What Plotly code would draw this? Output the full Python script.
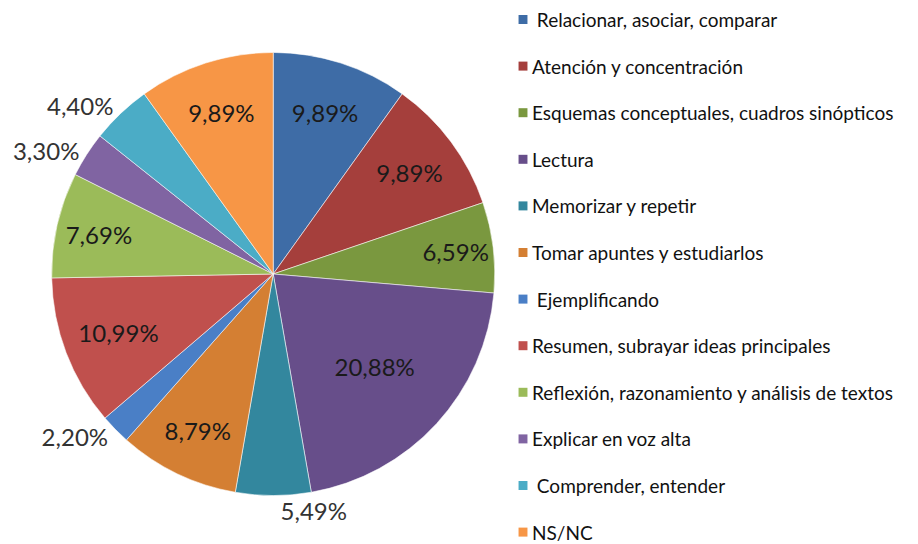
import plotly.graph_objects as go

categories = [
    " Relacionar, asociar, comparar",
    "Atención y concentración",
    "Esquemas conceptuales, cuadros sinópticos",
    "Lectura",
    "Memorizar y repetir",
    "Tomar apuntes y estudiarlos",
    " Ejemplificando",
    "Resumen, subrayar ideas principales",
    "Reflexión, razonamiento y análisis de textos",
    "Explicar en voz alta",
    " Comprender, entender",
    "NS/NC",
]
percent_values = [9.89, 9.89, 6.59, 20.88, 5.49, 8.79, 2.20, 10.99, 7.69, 3.30, 4.40, 9.89]
percent_labels = ["9,89%", "9,89%", "6,59%", "20,88%", "5,49%", "8,79%",
                  "2,20%", "10,99%", "7,69%", "3,30%", "4,40%", "9,89%"]
label_positions = ["inside", "inside", "inside", "inside", "outside", "inside",
                   "outside", "inside", "inside", "outside", "outside", "inside"]
slice_colors = ["#3E6CA6", "#A53F3C", "#7A983F", "#674E8A", "#33879E", "#D47F33",
                "#4A7FC6", "#C0504D", "#9BBB59", "#8064A2", "#4BACC6", "#F79646"]

# the page body has an 8px margin; size the figure so it fits the window
OFF = 8
W, H = 918 - OFF, 544 - OFF
FONT = "Lato"


def px_x(p):
    return (p - OFF) / W


def px_y(p):
    return 1 - (p - OFF) / H


fig = go.Figure()
fig.add_trace(go.Pie(
    labels=categories,
    values=percent_values,
    text=percent_labels,
    texttemplate="%{text}",
    textposition=label_positions,
    insidetextorientation="horizontal",
    sort=False,
    direction="clockwise",
    rotation=0,
    marker=dict(colors=slice_colors, line=dict(color="rgba(255,255,255,0.55)", width=1)),
    insidetextfont=dict(family=FONT, size=24, color="#1a1a1a"),
    outsidetextfont=dict(family=FONT, size=24, color="#333333"),
    domain=dict(x=[px_x(44), px_x(491)], y=[px_y(497), px_y(51)]),
    showlegend=False,
    hoverinfo="label+text",
))

# manual legend (Excel-style spacing)
shapes = []
annotations = []
y0, dy = 19.5, 46.6
for i, (name, col) in enumerate(zip(categories, slice_colors)):
    yc = y0 + i * dy
    shapes.append(dict(type="rect", xref="paper", yref="paper",
                       x0=px_x(515), x1=px_x(524),
                       y0=px_y(yc + 4.5), y1=px_y(yc - 4.5),
                       fillcolor=col, line=dict(width=0)))
    label = ("&nbsp;" + name[1:]) if name.startswith(" ") else name
    annotations.append(dict(x=px_x(528), y=px_y(yc), xref="paper", yref="paper",
                            text=label, borderpad=0,
                            showarrow=False, xanchor="left", yanchor="middle",
                            font=dict(family=FONT, size=19, color="#111111")))

fig.update_layout(
    width=W, height=H,
    margin=dict(l=0, r=0, t=0, b=0),
    paper_bgcolor="white",
    plot_bgcolor="white",
    shapes=shapes,
    annotations=annotations,
)

fig.write_html("out.html")
